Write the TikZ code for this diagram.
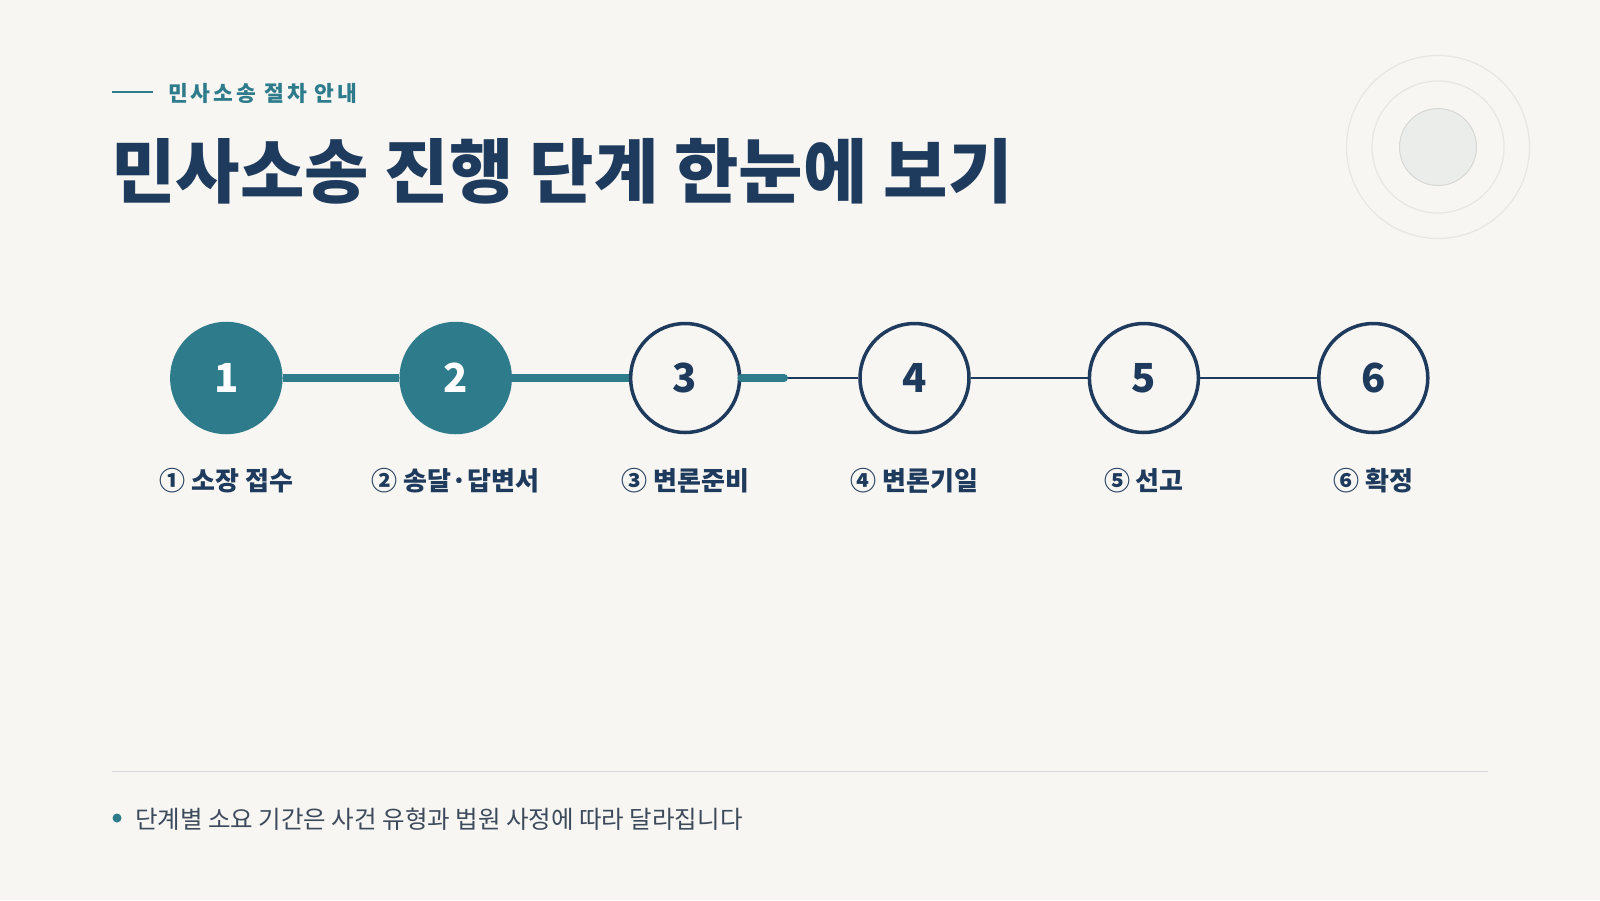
\documentclass[tikz,border=0pt]{standalone}
\usepackage{fontspec}
\setmainfont{Noto Sans CJK KR}
\newfontfamily\kr{Noto Sans CJK KR}
\newfontfamily\krsp{Noto Sans CJK KR}[LetterSpace=14]
\definecolor{bg}{HTML}{F7F6F2}
\definecolor{teal}{HTML}{2E7B8C}
\definecolor{navy}{HTML}{1E3A5C}
\definecolor{note}{HTML}{3D4A5C}
\definecolor{ring}{HTML}{E6E6E2}
\definecolor{ringfill}{HTML}{EBEDEB}
\definecolor{rule}{HTML}{D4D6DA}
\tikzset{
  done/.style={circle, minimum size=109pt, inner sep=0pt, fill=teal, draw=teal, line width=3.5pt,
    text=white, font=\kr\bfseries\fontsize{40}{44}\selectfont},
  todo/.style={circle, minimum size=109pt, inner sep=0pt, fill=bg, draw=navy, line width=3.5pt,
    text=navy, font=\kr\bfseries\fontsize{40}{44}\selectfont},
  steplabel/.style={text=navy, font=\kr\bfseries\fontsize{26}{30}\selectfont, anchor=center},
  progress/.style={draw=teal, line width=8pt, line cap=round},
  track/.style={draw=navy, line width=2.5pt},
}
\begin{document}
\begin{tikzpicture}[x=1pt,y=-1pt]
\fill[bg] (0,0) rectangle (1600,900);
\useasboundingbox (0,0) rectangle (1600,900);
% decorative rings
\draw[ring, line width=1.2pt] (1438,147) circle (91.5);
\draw[ring, line width=1.2pt] (1438,147) circle (66);
\fill[ringfill, draw=ring!85!gray, line width=1pt] (1438,147) circle (38.5);
% header
\coordinate (hl1) at (112,92);
\coordinate (hl2) at (153,92);
\draw[teal, line width=2.5pt] (hl1) -- (hl2);
\node[anchor=west, inner sep=0pt, text=teal, font=\krsp\bfseries\fontsize{21.5}{25}\selectfont] (sub) at (168,93) {민사소송 절차 안내};
\node[anchor=west, inner sep=0pt, text=navy, font=\kr\bfseries\fontsize{70}{78}\selectfont] (title) at (111,171) {민사소송 진행 단계 한눈에 보기};
% steps
\node[done] (c1) at (226.3,378) {1};
\node[done] (c2) at (455.7,378) {2};
\node[todo] (c3) at (685.1,378) {3};
\node[todo] (c4) at (914.5,378) {4};
\node[todo] (c5) at (1143.9,378) {5};
\node[todo] (c6) at (1373.3,378) {6};
\coordinate (pend) at (784,378);
\draw[track] (c3) -- (c4);
\draw[track] (c4) -- (c5);
\draw[track] (c5) -- (c6);
\draw[progress, line cap=butt] (c1) -- (c2);
\draw[progress, line cap=butt] (c2) -- (c3);
\draw[progress] (c3.east) -- (pend);
% labels
\node[steplabel] (l1) at (226.3,481) {① 소장 접수};
\node[steplabel] (l2) at (455.7,481) {② 송달·답변서};
\node[steplabel] (l3) at (685.1,481) {③ 변론준비};
\node[steplabel] (l4) at (914.5,481) {④ 변론기일};
\node[steplabel] (l5) at (1143.9,481) {⑤ 선고};
\node[steplabel] (l6) at (1373.3,481) {⑥ 확정};
% footer
\coordinate (r1) at (112,771);
\coordinate (r2) at (1488,771);
\draw[rule, line width=1pt] (r1) -- (r2);
\fill[teal] (117,818) circle (4.5);
\node[anchor=west, inner sep=0pt, text=note, font=\kr\fontsize{24.5}{28}\selectfont] (note) at (135,819) {단계별 소요 기간은 사건 유형과 법원 사정에 따라 달라집니다};
\end{tikzpicture}
\end{document}
